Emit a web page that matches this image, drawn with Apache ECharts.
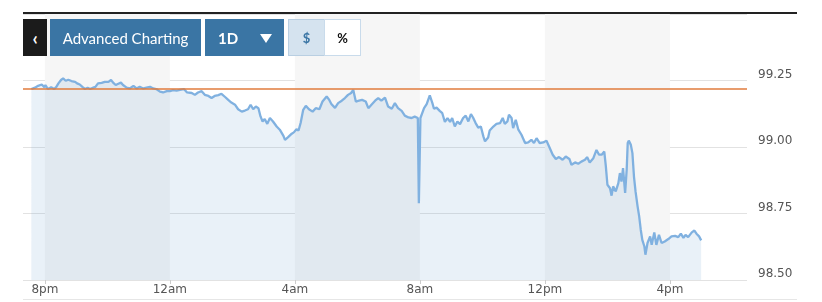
<!DOCTYPE html>
<html><head><meta charset="utf-8">
<script src="https://cdn.jsdelivr.net/npm/echarts@6/dist/echarts.min.js"></script>
<style>
html,body{margin:0;padding:0;background:#fff;width:822px;height:302px;overflow:hidden;}
#chart{position:absolute;left:0;top:0;width:822px;height:302px;}
.bx{position:absolute;top:19px;height:37px;box-sizing:border-box;font-family:Lato,"Open Sans",sans-serif;z-index:5;display:flex;align-items:center;justify-content:center;}
</style></head><body>
<div id="chart"></div>
<div style="position:absolute;left:23px;top:12px;width:774px;height:2px;background:#222;z-index:5"></div>
<div style="position:absolute;left:23px;top:299px;width:774px;height:1px;background:#e6e6e6;z-index:5"></div>
<div class="bx" style="left:23px;width:24px;background:#1b1b1b;color:#fff;font-weight:bold;font-size:18px;">&#8249;</div>
<div class="bx" style="left:50px;width:151px;background:#3a75a4;color:#fff;font-size:15px;">Advanced Charting</div>
<div class="bx" style="left:205px;width:79px;background:#3a75a4;color:#fff;font-size:15px;font-weight:bold;justify-content:flex-start;">
  <span style="margin-left:13px">1D</span>
  <span style="position:absolute;left:55px;top:15px;width:0;height:0;border-left:6px solid transparent;border-right:6px solid transparent;border-top:9px solid #fff;"></span>
</div>
<div class="bx" style="left:288px;width:37px;background:#d5e3ef;border:1px solid #b9cfe2;color:#3a75a4;font-size:13px;font-weight:bold;">$</div>
<div class="bx" style="left:324px;width:37px;background:#fff;border:1px solid #c9dbeb;color:#111;font-size:13px;font-weight:bold;">%</div>
<script>
// minutes relative to 8pm
const mins = [
  -26,-19,-13,-6,-1,1,6,12,18,22,26,31,35,40,45,51,58,63,67,72,77,82,87,93,97,102,109,115,122,127,
  131,136,141,146,150,157,163,170,176,182,189,195,202,208,214,221,227,234,240,246,253,259,267,
  273,282,288,294,301,307,314,320,326,333,339,346,352,358,365,371,378,384,390,395,
  400,405,410,414,418,422,427,432,438,445,451,458,461,467,474,478,483,487,491,496,
  501,507,514,520,527,533,541,546,550,557,563,
  570,576,582,588,592,597,603,609,616,621,627,634,640,646,653,659,666,672,678,685,
  691,698,704,710,716,718,721,724,728,733,739,744,747,752,758,763,768,773,778,782,
  787,792,797,803,808,813,818,822,827,832,837,842,845,851,854,
  861,867,874,879,883,888,891,896,899,904,909,915,922,928,934,939,944,950,957,963,
  968,975,981,987,994,1000,1007,1011,1018,1024,1030,1037,1041,1046,1053,
  1059,1064,1069,1074,1077,1080,1085,1088,1091,1096,1101,1104,1107,1110,1114,1117,1119,1121,1125,1128,
  1131,1134,1138,1141,1144,1147,1151,1153,1157,1162,1165,1170,1174,1179,1184,1190,1197,1203,1210,1216,
  1221,1226,1230,1235,1242,1247,1251,1256,1260
];
const prices = [
  99.218,99.223,99.230,99.235,99.225,99.233,99.218,99.225,99.218,99.226,99.239,99.252,99.258,99.249,99.253,99.248,99.245,99.238,99.235,99.226,99.218,99.223,99.218,99.223,99.226,99.239,99.241,99.245,99.245,99.252,
  99.242,99.233,99.238,99.242,99.233,99.223,99.220,99.230,99.220,99.226,99.220,99.223,99.226,99.220,99.218,99.208,99.205,99.210,99.210,99.214,99.212,99.215,99.218,
  99.205,99.203,99.196,99.205,99.210,99.196,99.192,99.184,99.192,99.195,99.200,99.188,99.177,99.167,99.159,99.142,99.133,99.137,99.142,99.159,
  99.142,99.152,99.146,99.115,99.096,99.105,99.087,99.109,99.096,99.077,99.065,99.042,99.027,99.037,99.050,99.055,99.067,99.062,99.090,99.140,
  99.155,99.142,99.133,99.146,99.142,99.171,99.190,99.177,99.162,99.147,99.165,
  99.174,99.184,99.196,99.203,99.215,99.171,99.174,99.177,99.171,99.146,99.159,99.174,99.184,99.174,99.186,99.152,99.144,99.165,99.146,99.136,
  99.118,99.111,99.109,99.114,99.109,98.789,99.109,99.115,99.146,99.161,99.194,99.165,99.144,99.148,99.136,99.127,99.094,99.109,99.094,99.109,
  99.077,99.096,99.086,99.109,99.118,99.096,99.124,99.111,99.090,99.073,99.077,99.039,99.021,99.036,99.062,
  99.077,99.087,99.090,99.109,99.087,99.096,99.121,99.109,99.071,99.102,99.065,99.046,99.015,99.017,99.027,99.015,99.033,99.015,99.017,99.024,
  99.002,98.971,98.955,98.962,98.952,98.964,98.955,98.933,98.942,98.937,98.945,98.952,98.962,98.942,98.958,
  98.989,98.971,98.971,98.983,98.927,98.858,98.845,98.817,98.852,98.833,98.864,98.902,98.870,98.921,98.827,98.914,99.015,99.024,99.008,98.977,
  98.889,98.833,98.776,98.739,98.689,98.651,98.626,98.595,98.639,98.664,98.632,98.679,98.632,98.670,98.639,98.645,98.654,98.664,98.666,98.661,
  98.674,98.658,98.670,98.661,98.679,98.686,98.674,98.664,98.649
];
const prevClose = 99.219;
const tickMins = [0, 240, 480, 720, 960, 1200];
const tickLabels = ['8pm', '12am', '4am', '8am', '12pm', '4pm'];
const bandStarts = [0, 480, 960];
const bandEnds = [240, 720, 1200];

const chart = echarts.init(document.getElementById('chart'), null, {renderer: 'canvas'});
const seriesData = mins.map((m, i) => [m, prices[i]]);
chart.setOption({
  animation: false,
  backgroundColor: '#fff',
  grid: {left: 23, right: 75, top: 14, bottom: 22},
  xAxis: {
    type: 'value', min: -42, max: 1348,
    axisLine: {show: false}, splitLine: {show: false},
    axisTick: {show: true, customValues: tickMins, length: 4, lineStyle: {color: '#cccccc'}},
    axisLabel: {customValues: tickMins, formatter: v => tickLabels[tickMins.indexOf(v)],
      color: '#555', fontFamily: 'DejaVu Sans', fontSize: 12, margin: 4}
  },
  yAxis: {
    type: 'value', position: 'right', min: 98.5, max: 99.5, interval: 0.25,
    axisLine: {show: false}, axisTick: {show: false},
    splitLine: {lineStyle: {color: '#e2e2e2', width: 1}},
    axisLabel: {formatter: v => v.toFixed(2), showMaxLabel: false, verticalAlign: 'bottom',
      margin: 11, color: '#555', fontFamily: 'DejaVu Sans', fontSize: 12}
  },
  series: [
    {type: 'line', data: [], z: 1, silent: true,
     markArea: {silent: true, itemStyle: {color: '#f6f6f6'},
       data: bandStarts.map((s, i) => [{xAxis: s}, {xAxis: bandEnds[i]}])}},
    {type: 'line', data: seriesData, z: 3, showSymbol: false, silent: true,
     lineStyle: {color: '#80b1e0', width: 2.3},
     areaStyle: {color: 'rgba(100,155,205,0.2)', origin: 'start'},
     markLine: {silent: true, symbol: 'none', label: {show: false},
       lineStyle: {color: '#e07b3c', width: 1.5, type: 'solid'},
       data: [{yAxis: prevClose}]}}
  ]
});
</script>
</body></html>
